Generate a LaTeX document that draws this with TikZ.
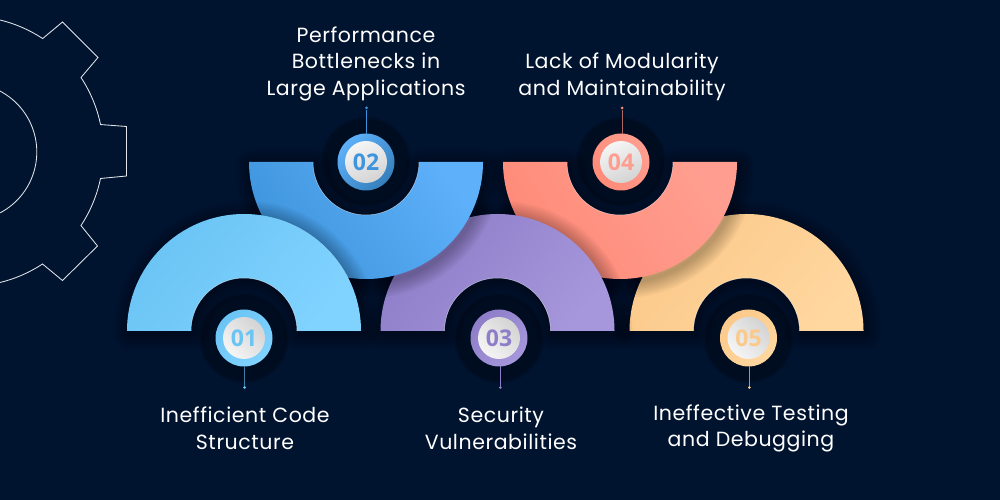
\documentclass[tikz,border=0pt]{standalone}
\usepackage{fontspec}
\setmainfont[LetterSpace=2.8]{Poppins}
\newfontfamily\numfont{Open Sans}
\definecolor{bg}{HTML}{00132F}
\definecolor{gearc}{HTML}{E2E5EA}
\definecolor{aA}{HTML}{6AC4F4}\definecolor{aB}{HTML}{81D3FF}
\definecolor{bA}{HTML}{3F95DD}\definecolor{bB}{HTML}{5DB0F9}
\definecolor{cA}{HTML}{8E7DC8}\definecolor{cB}{HTML}{A697DC}
\definecolor{dA}{HTML}{FF8A78}\definecolor{dB}{HTML}{FF9E90}
\definecolor{eA}{HTML}{FBC98A}\definecolor{eB}{HTML}{FFD79F}
\tikzset{
  x=1pt,y=1pt,
  gearline/.style={draw=gearc,line width=0.85pt,line join=miter},
  lab/.style={text=white,align=center,inner sep=0pt,font=\fontsize{20.5}{26.5}\selectfont},
  disc/.style={circle,minimum size=57pt,inner sep=0pt},
  facedown/.style={circle,minimum size=42pt,inner sep=0pt,top color=white!96!black,bottom color=white!83!black,shading angle=25,font=\numfont\bfseries\fontsize{23}{23}\selectfont},
  faceup/.style={circle,minimum size=42pt,inner sep=0pt,top color=white!83!black,bottom color=white!96!black,shading angle=-45,font=\numfont\bfseries\fontsize{23}{23}\selectfont},
  pin/.style={line width=0.9pt},
  pindot/.style={circle,minimum size=3pt,inner sep=0pt},
}
\newcommand{\ringup}[2]{({#1-117},#2) arc[start angle=180,end angle=0,radius=117] -- ({#1+53},#2) arc[start angle=0,end angle=180,radius=53] -- cycle}
\newcommand{\ringdown}[2]{({#1-117},#2) arc[start angle=180,end angle=360,radius=117] -- ({#1+53},#2) arc[start angle=360,end angle=180,radius=53] -- cycle}
\newcommand{\softshadow}[1]{%
  \foreach \w in {4,8,...,32}{
    \draw[black,opacity=0.035,line width=\w pt,line join=round,yshift=-3pt,xshift=2pt] #1;
  }}
\newcommand{\halo}[2]{%
  \fill[black,opacity=0.12] (#1,#2) circle[radius=45];
  \fill[black,opacity=0.22] (#1,#2) circle[radius=43];
}
\begin{document}
\begin{tikzpicture}
\useasboundingbox (0,0) rectangle (1000,500);
\fill[bg] (0,0) rectangle (1000,500);
% gear
\begin{scope}
\clip (0,0) rectangle (1000,500);
\draw[gearline] (0,480)
  arc[start angle=76.4,end angle=56.6,radius=135.3] -- (62.5,478) -- (98,442.5) -- (81,422.5)
  arc[start angle=33.4,end angle=11.7,radius=135.3] -- (126.5,373.5) -- (126.5,324) -- (100.5,321.5)
  arc[start angle=-11.7,end angle=-33.4,radius=135.3] -- (97.5,254) -- (62.5,219.5) -- (42.5,236)
  arc[start angle=-56.6,end angle=-76.4,radius=135.3];
\draw[gearline] (-32,348) circle[radius=68.8];
\end{scope}
% half rings, back to front
\softshadow{\ringup{746.5}{169}}
\shade[left color=eA,right color=eB,shading angle=50] \ringup{746.5}{169};
\softshadow{\ringdown{620}{338}}
\shade[left color=dA,right color=dB,shading angle=125] \ringdown{620}{338};
\softshadow{\ringup{497.5}{169}}
\shade[left color=cA,right color=cB,shading angle=50] \ringup{497.5}{169};
\softshadow{\ringdown{366}{338}}
\shade[left color=bA,right color=bB,shading angle=125] \ringdown{366}{338};
\softshadow{\ringup{244}{169}}
\shade[left color=aA,right color=aB,shading angle=50] \ringup{244}{169};
% inner rim highlights
\foreach \cx in {244,497.5,746.5}{
  \draw[white,opacity=0.55,line width=0.5pt] ({\cx+53},169) arc[start angle=0,end angle=180,radius=53];
}
\foreach \cx in {366,620}{
  \draw[white,opacity=0.55,line width=0.5pt] ({\cx+53},338) arc[start angle=360,end angle=180,radius=53];
}
% badge shadows
\halo{244}{162}\halo{366}{338}\halo{499}{162}\halo{621}{338}\halo{748.5}{162}
% badges
\node[disc,left color=aA,right color=aB,shading angle=45] (b1) at (244,162) {};
\node[faceup,text=aA] (f1) at (244,162) {01};
\node[disc,left color=bA!85!black,right color=bB,shading angle=225] (b2) at (366,338) {};
\node[facedown,text=bA] (f2) at (366,338) {02};
\node[disc,left color=cA,right color=cB,shading angle=45] (b3) at (499,162) {};
\node[faceup,text=cA] (f3) at (499,162) {03};
\node[disc,left color=dA,right color=dB,shading angle=125] (b4) at (621,338) {};
\node[facedown,text=dB] (f4) at (621,338) {04};
\node[disc,left color=eA,right color=eB,shading angle=45] (b5) at (748.5,162) {};
\node[faceup,text=eA] (f5) at (748.5,162) {05};
% pins
\node[pindot,fill=aA] (p1) at (244.7,112.5) {};
\node[pindot,fill=bA] (p2) at (366.5,392) {};
\node[pindot,fill=cA] (p3) at (500.3,112.5) {};
\node[pindot,fill=dA] (p4) at (622,392) {};
\node[pindot,fill=eA] (p5) at (749.3,112.5) {};
\coordinate (q1) at (244.7,134);
\coordinate (q2) at (366.5,366);
\coordinate (q3) at (500.3,134);
\coordinate (q4) at (622,366);
\coordinate (q5) at (749.3,134);
\draw[pin,draw=aA!60!bg] (q1) -- (p1);
\draw[pin,draw=bA] (q2) -- (p2);
\draw[pin,draw=cA] (q3) -- (p3);
\draw[pin,draw=dA!70!bg] (q4) -- (p4);
\draw[pin,draw=eA!70!bg] (q5) -- (p5);
% labels
\node[lab] (l1) at (245,71.5) {Inefficient Code\\Structure};
\node[lab] (l2) at (366,436.5) {Performance\\Bottlenecks in\\Large Applications};
\node[lab] (l3) at (501,71.5) {Security\\Vulnerabilities};
\node[lab] (l4) at (622,423) {Lack of Modularity\\and Maintainability};
\node[lab] (l5) at (751,71.5) {Ineffective Testing\\and Debugging};
\end{tikzpicture}
\end{document}
